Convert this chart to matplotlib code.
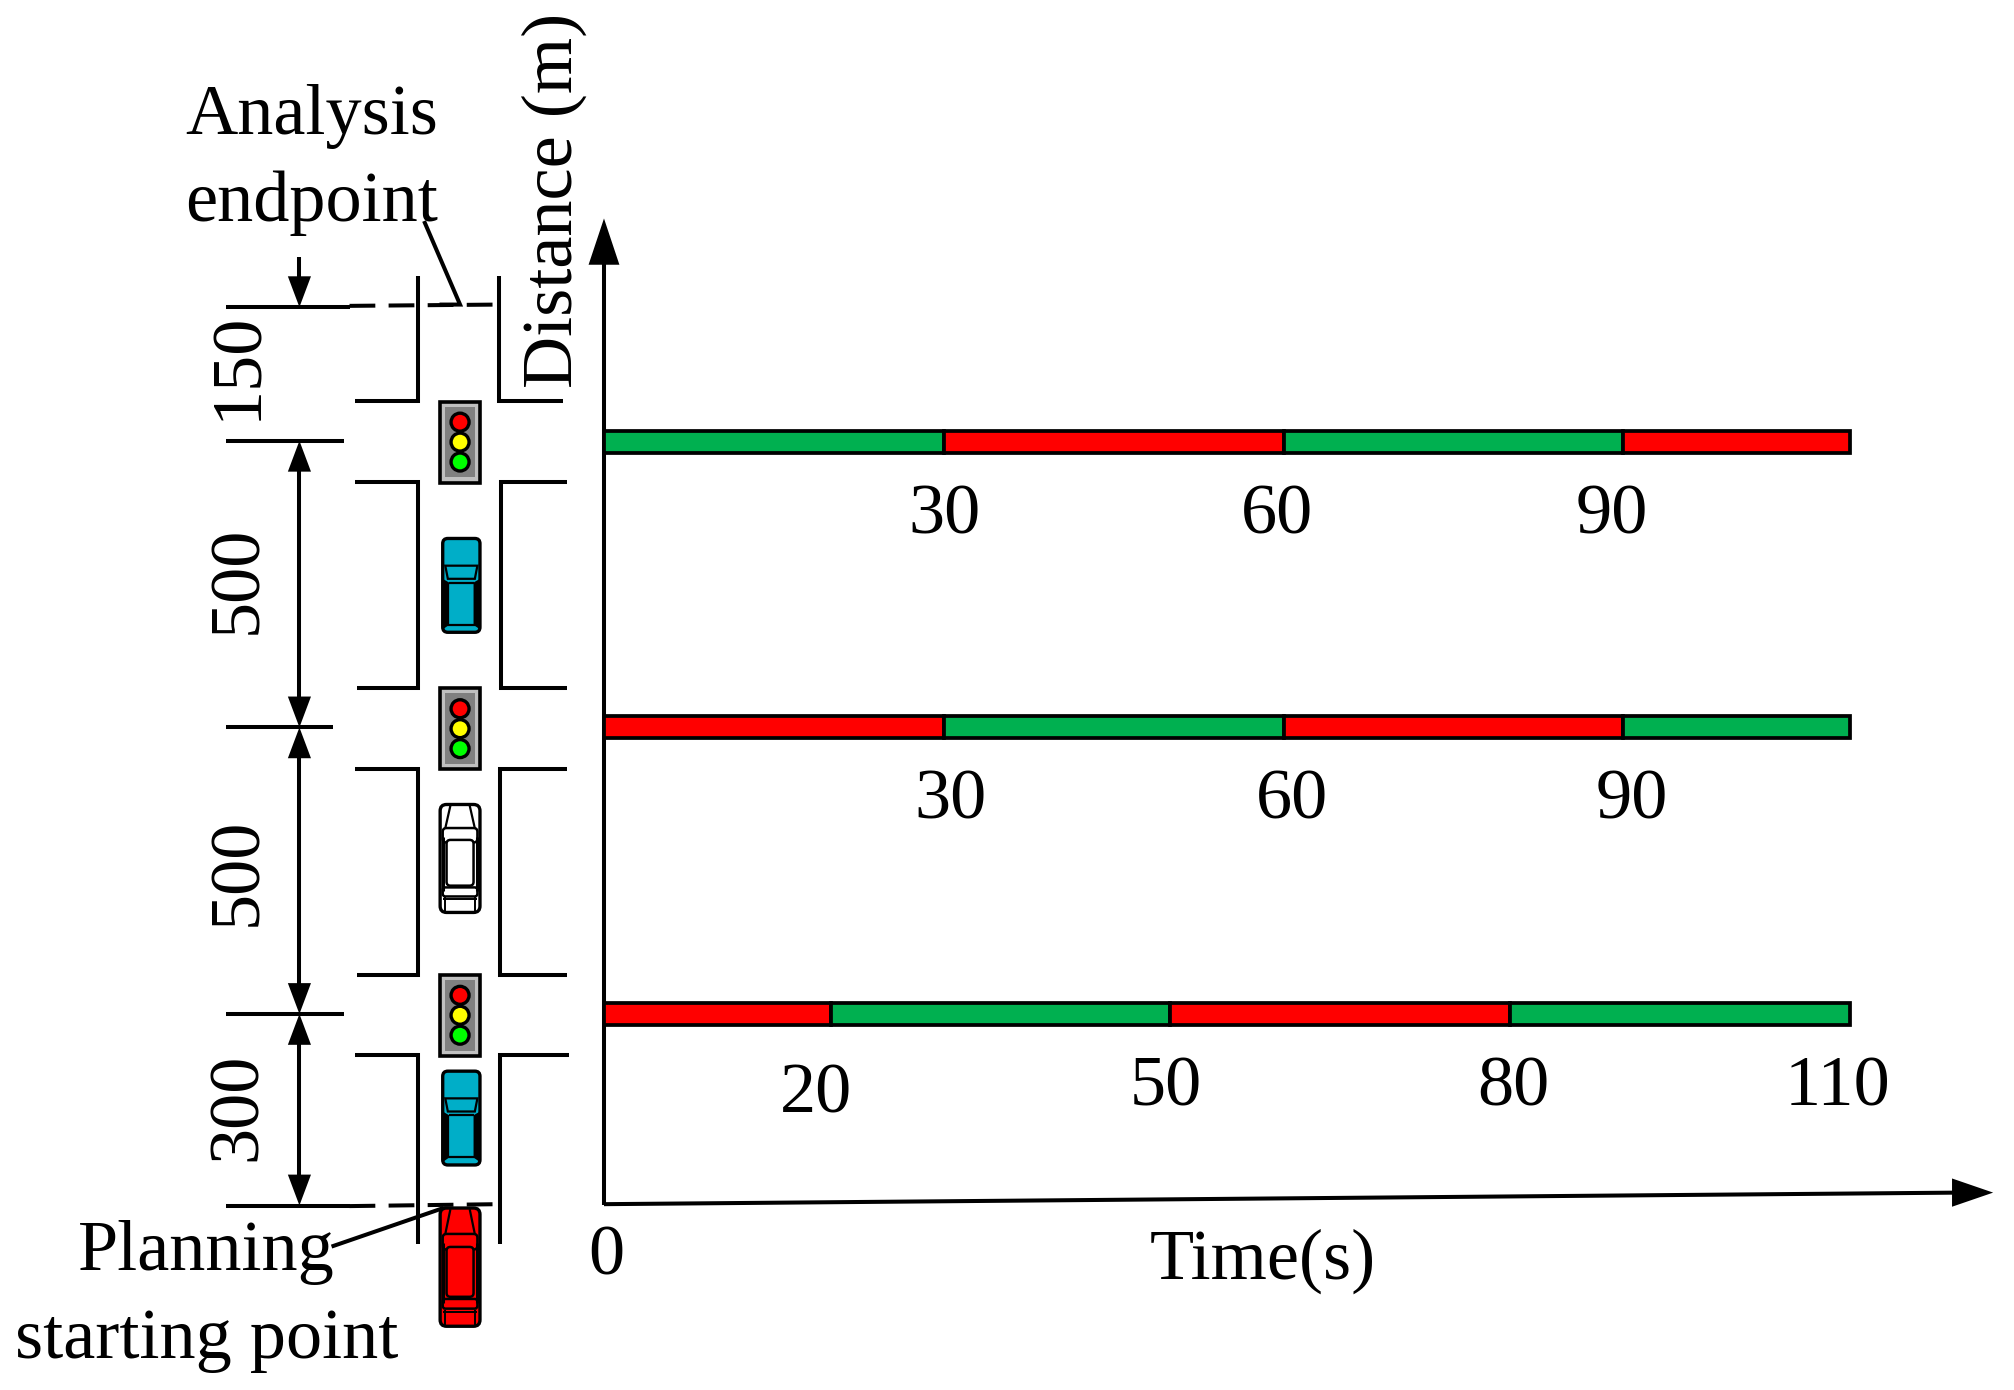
import matplotlib
matplotlib.use('Agg')
import matplotlib.pyplot as plt
from matplotlib.patches import Polygon, Rectangle, Circle, FancyBboxPatch

plt.rcParams['font.family'] = ['Liberation Serif', 'DejaVu Serif']

# Signal timing, seconds
row_breaks = [
    [0, 30, 60, 90, 110],
    [0, 30, 60, 90, 110],
    [0, 20, 50, 80, 110],
]
row_colors = [
    ['#00B050', '#FF0000', '#00B050', '#FF0000'],
    ['#FF0000', '#00B050', '#FF0000', '#00B050'],
    ['#FF0000', '#00B050', '#FF0000', '#00B050'],
]
# Height of each signal on the time-distance axes as drawn, metres
row_distance = [1332, 834, 332]
row_labels = [
    ['30', '60', '90'],
    ['30', '60', '90'],
    ['20', '50', '80', '110'],
]
segment_lengths = ['150', '500', '500', '300']

FS = 52
LW = 2.9

fig = plt.figure(figsize=(20.15, 13.9), dpi=100)

# sketch layer, coordinates are pixels of a 1568 wide page
sk = fig.add_axes([0, 0, 1, 1])
sk.set_xlim(0, 1568)
sk.set_ylim(1081.6, 0)
sk.axis('off')


def seg(xs, ys, lw=LW, **kw):
    sk.plot(xs, ys, color='k', lw=lw, solid_capstyle='butt', solid_joinstyle='miter', **kw)


def head(x, y, dx, dy, length=25, half=9):
    # filled arrow head with its tip at x, y pointing along dx, dy
    bx, by = x - dx * length, y - dy * length
    px, py = -dy * half, dx * half
    sk.add_patch(Polygon([(x, y), (bx + px, by + py), (bx - px, by - py)], fc='k', ec='none', zorder=4))


def label(x, y, s, **kw):
    sk.text(x, y, s, fontsize=FS, color='k', va='baseline', **kw)


def traffic_light(top):
    sk.add_patch(Rectangle((342.5, top), 31, 63, fc='#C0C0C0', ec='k', lw=2.6, zorder=3))
    sk.add_patch(Rectangle((346.5, top + 4), 23, 55, fc='#808080', ec='none', zorder=3))
    for dy, c in zip([16, 31.5, 47], ['#FF0000', '#FFFF00', '#00FF00']):
        sk.add_patch(Circle((358, top + dy), 7, fc=c, ec='k', lw=2.4, zorder=4))


def blue_car(top, h=73):
    c = '#00AEC8'
    x0, w = 344.5, 29
    y = lambda f: top + f * h
    sk.add_patch(FancyBboxPatch((x0 + 2, top + 2), w - 4, h - 4, boxstyle='round,pad=2,rounding_size=4',
                                fc=c, ec='k', lw=2.4, zorder=3))
    sk.add_patch(Polygon([(x0 + 2, y(.29)), (x0 + w - 2, y(.29)), (x0 + w - 4, y(.43)), (x0 + 4, y(.43))],
                         fc=c, ec='k', lw=1.6, zorder=4))
    # dark door strips either side of the roof
    sk.add_patch(Polygon([(x0, y(.43)), (x0 + 5, y(.47)), (x0 + 5, y(.92)), (x0, y(.97))], fc='k', ec='none', zorder=4))
    sk.add_patch(Polygon([(x0 + w, y(.43)), (x0 + w - 5, y(.47)), (x0 + w - 5, y(.92)), (x0 + w, y(.97))],
                         fc='k', ec='none', zorder=4))
    seg([x0 + 2, x0 + w - 2], [y(.92), y(.92)], lw=1.6, zorder=5)
    seg([x0 + 5, x0 + w - 5], [y(.47), y(.47)], lw=1.6, zorder=5)


def sedan(top, c, h=84):
    x0, w = 342.5, 31
    y = lambda f: top + f * h
    sk.add_patch(FancyBboxPatch((x0 + 3, top + 3), w - 6, h - 6, boxstyle='round,pad=3,rounding_size=5',
                                fc=c, ec='k', lw=2.4, zorder=3))
    # bonnet, windscreen, roof and boot outlines
    seg([x0 + 8, x0 + 4], [y(.01), y(.22)], lw=1.6, zorder=5)
    seg([x0 + w - 8, x0 + w - 4], [y(.01), y(.22)], lw=1.6, zorder=5)
    sk.add_patch(FancyBboxPatch((x0 + 3, y(.23)), w - 6, y(.34) - y(.23), boxstyle='round,pad=1,rounding_size=3',
                                fc=c, ec='k', lw=1.8, zorder=4))
    sk.add_patch(FancyBboxPatch((x0 + 6, y(.34)), w - 12, y(.74) - y(.34), boxstyle='round,pad=1,rounding_size=3',
                                fc=c, ec='k', lw=1.8, zorder=4))
    seg([x0 + 2, x0 + 2], [y(.3), y(.8)], lw=2.2, zorder=5)
    seg([x0 + w - 2, x0 + w - 2], [y(.3), y(.8)], lw=2.2, zorder=5)
    sk.add_patch(FancyBboxPatch((x0 + 3, y(.78)), w - 6, y(.84) - y(.78), boxstyle='round,pad=1,rounding_size=2',
                                fc=c, ec='k', lw=1.8, zorder=4))
    seg([x0 + 4, x0 + 4], [y(.86), y(.99)], lw=1.4, zorder=5)
    seg([x0 + w - 4, x0 + w - 4], [y(.86), y(.99)], lw=1.4, zorder=5)
    seg([x0 + 2, x0 + w - 2], [y(.88), y(.88)], lw=1.4, zorder=5)


# road edges
seg([325, 325, 276], [215, 312, 312])
seg([388, 388, 438], [215, 312, 312])
seg([276, 325, 325, 278], [375, 375, 535, 535])
seg([441, 390, 390, 441], [375, 375, 535, 535])
seg([276, 325, 325, 278], [598, 598, 759, 759])
seg([441, 389, 389, 441], [598, 598, 759, 759])
seg([276, 325, 325], [821, 821, 968])
seg([443, 389, 389], [821, 821, 968])

for top in [312.5, 535.5, 758.5]:
    traffic_light(top)
blue_car(419)
blue_car(833.5)
sedan(626, 'white')
sedan(940, '#FF0000', h=92)

# dimension lines
seg([176, 272], [239, 239])
seg([272, 388], [238, 237], ls=(0, (6.4, 3.3)))
seg([176, 268], [343, 343])
seg([176, 259], [566, 566])
seg([176, 268], [789, 789])
seg([176, 272], [938.5, 938.5])
seg([272, 388], [938.5, 937], ls=(0, (6.4, 3.3)))
seg([233, 233], [200, 220])
head(233, 239, 0, 1, length=24)
for y0, y1 in [(343, 566), (566, 789), (789, 938)]:
    seg([233, 233], [y0 + 15, y1 - 15])
    head(233, y0, 0, -1, length=24)
    head(233, y1, 0, 1, length=24)

# leaders
seg([330, 358, 342], [172, 237, 237])
seg([258, 345], [970, 940], zorder=6)

for yc, s in zip([289, 455, 682, 865], segment_lengths):
    sk.text(199, yc - 4, s, fontsize=FS, rotation=90, rotation_mode='anchor', ha='center', va='baseline')

label(144, 104, 'Analysis')
label(144, 172, 'endpoint')
label(61, 988, 'Planning')
label(12, 1057, 'starting point')
sk.text(445, 156, 'Distance (m)', fontsize=FS, rotation=90, rotation_mode='anchor', ha='center', va='baseline')

# time-distance axes
ax = fig.add_axes([604 / 2015, 1 - 1204 / 1390, (1850 - 604) / 2015, 915 / 1390])
ax.patch.set_alpha(0)
ax.set_xlim(0, 110)
ax.set_ylim(0, 1600)
ax.axis('off')

for breaks, colors, dist in zip(row_breaks, row_colors, row_distance):
    for t0, t1, c in zip(breaks[:-1], breaks[1:], colors):
        ax.barh(dist, t1 - t0, left=t0, height=39, color=c, edgecolor='k', lw=2.7, zorder=2, clip_on=False)

# axis lines with arrows, the time axis rises slightly as in the source
seg([470, 470], [200, 937.5], lw=LW, zorder=5)
head(470, 170, 0, -1, length=36, half=12)
seg([470, 1525], [937, 928], lw=LW)
head(1551, 928, 1, 0, length=32, half=11)

label_x = [[735, 994, 1254], [740, 1005, 1270], [635, 907, 1178, 1430]]
label_y = [[415, 415, 415], [637, 637, 637], [866, 860, 860, 860]]
for xs, ys, texts in zip(label_x, label_y, row_labels):
    for x, y, s in zip(xs, ys, texts):
        label(x, y, s, ha='center')
label(472, 992, '0', ha='center')
label(983, 995, 'Time(s)', ha='center')

fig.savefig('out.png', dpi=100)
